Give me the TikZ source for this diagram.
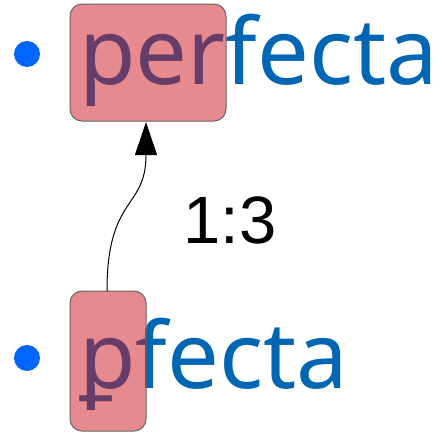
\documentclass[tikz,border=0pt]{standalone}
\usepackage{fontspec}
\setmainfont{Noto Sans}
\setsansfont{Liberation Sans}
\usetikzlibrary{arrows.meta}
\definecolor{txtblue}{RGB}{0,102,179}
\definecolor{bulblue}{RGB}{0,102,255}
\definecolor{boxred}{RGB}{205,21,31}
\definecolor{boxline}{RGB}{102,102,102}
\tikzset{
  word/.style={anchor=base west, inner sep=0pt, text=txtblue, font=\fontsize{92}{92}\selectfont},
  bullet/.style={circle, fill=bulblue, inner sep=0pt, minimum size=26pt},
  hl/.style={draw=boxline, line width=1pt, fill=boxred, fill opacity=0.5, rounded corners=12pt, inner sep=0pt},
  ratio/.style={font=\sffamily\fontsize{67}{67}\selectfont, inner sep=0pt},
  link/.style={line width=1pt, -{Triangle[length=33pt,width=22pt]}}
}
\begin{document}
\begin{tikzpicture}[x=1pt,y=-1pt]
\useasboundingbox (0,0) rectangle (445,432);
\node[bullet] (b1) at (27,54) {};
\node[bullet] (b2) at (27,358) {};
\node[word] (w1) at (79,84) {perfecta};
\node[word] (w2) at (79,388) {ꝑfecta};
\path[hl] (70,4) rectangle (226,121);
\path[hl] (70,291) rectangle (146,431);
\coordinate (top) at (146,122);
\coordinate (bot) at (107,291);
\node[ratio] (r) at (230,220) {1:3};
\draw[link] (bot) .. controls (107,195) and (146,210) .. (top);
\end{tikzpicture}
\end{document}
